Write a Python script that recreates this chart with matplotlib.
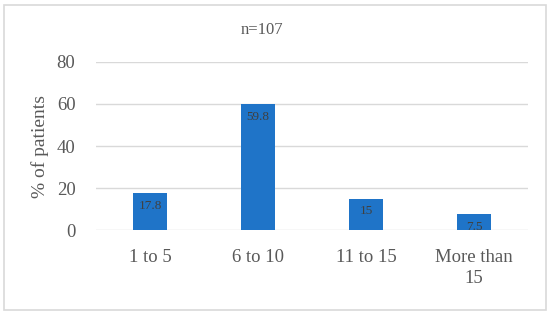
import matplotlib.pyplot as plt
from matplotlib.patches import Rectangle

plt.rcParams['font.family'] = ['Liberation Serif', 'DejaVu Serif']

categories = ["1 to 5", "6 to 10", "11 to 15", "More than\n15"]
values = [17.8, 59.8, 15, 7.5]
value_labels = ["17.8", "59.8", "15", "7.5"]
yticks = [0, 20, 40, 60, 80]

TEXT = '#595959'
BAR = '#1f74c8'


def main():
    fig = plt.figure(figsize=(5.5, 3.13), dpi=100)
    fig.patches.append(Rectangle((0.007, 0.01), 0.986, 0.975, transform=fig.transFigure,
                                 fill=False, edgecolor='#d9d9d9', linewidth=1.2))
    ax = fig.add_axes([0.175, 0.265, 0.785, 0.537])

    x = range(len(categories))
    bars = ax.bar(x, values, width=0.31, color=BAR, zorder=3)

    # data labels inside the bar end
    for bar, lab in zip(bars, value_labels):
        ax.annotate(lab, (bar.get_x() + bar.get_width() / 2, bar.get_height()),
                    xytext=(0, -5), textcoords='offset points',
                    ha='center', va='top', fontsize=9.5, color='#404040', zorder=4)

    ax.set_xlim(-0.5, len(categories) - 0.5)
    ax.set_ylim(0, 80)
    ax.set_yticks(yticks)
    ax.set_xticks(list(x))
    ax.set_xticklabels(categories, fontsize=13.5, color=TEXT, linespacing=1.25, va='top')
    ax.tick_params(axis='y', labelsize=13.5, labelcolor=TEXT, length=0, pad=15)
    ax.tick_params(axis='x', length=0, pad=14)
    ax.grid(axis='y', color='#d9d9d9', linewidth=1, zorder=0)
    for s in ax.spines.values():
        s.set_visible(False)

    ax.set_ylabel('% of patients', fontsize=14, color=TEXT)
    ax.yaxis.set_label_coords(-0.11, 0.5)
    fig.text(0.477, 0.905, 'n=107', ha='center', va='center', fontsize=12, color=TEXT)

    plt.savefig('out.png', dpi=100)


if __name__ == "__main__":
    main()
